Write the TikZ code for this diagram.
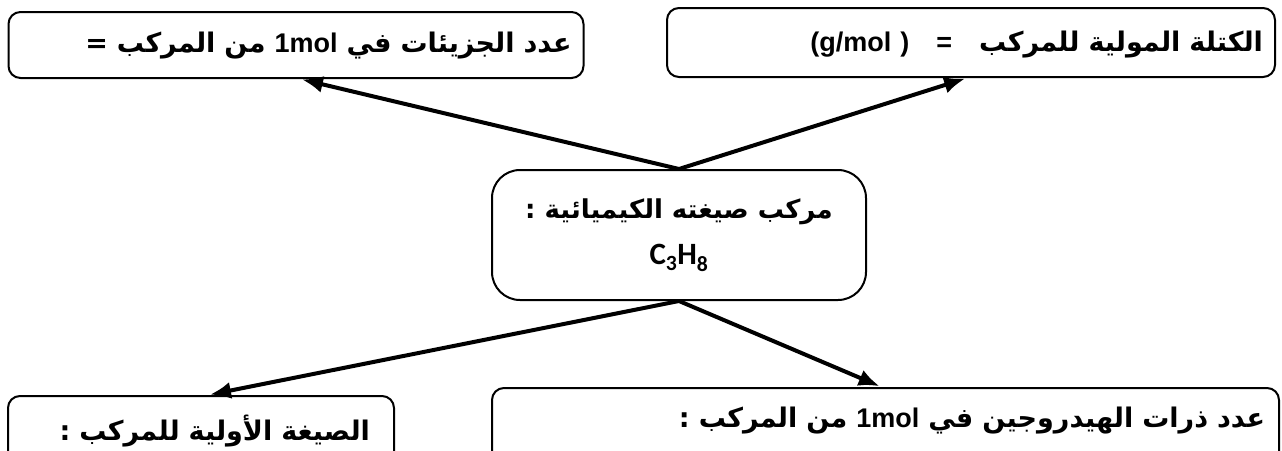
\documentclass[tikz,border=0pt]{standalone}
\usepackage{fontspec}
\setmainfont{Liberation Sans}
\newfontfamily\arfont[Script=Arabic]{DejaVu Sans}
\newfontfamily\calfont{Carlito}
\TeXXeTstate=1
\usetikzlibrary{arrows.meta}

\tikzset{
  boite/.style={draw, line width=2pt, rounded corners=12pt, anchor=north,
    inner xsep=12pt, inner ysep=0pt, align=right,
    font=\fontsize{27}{32}\selectfont\bfseries},
  fleche/.style={line width=4pt, -{Latex[length=21pt,width=17pt]}, shorten >=2pt}
}

\begin{document}
\begin{tikzpicture}[x=1pt,y=-1pt]
\useasboundingbox (0,0) rectangle (1282,450);
\clip (0,0) rectangle (1282,450);
% boites du haut
\node[boite, minimum width=575pt, text width=551pt, text height=40pt, text depth=26pt] (nbmol) at (296,11)
  {\beginR{\arfont عدد الجزيئات في} \beginL 1mol\endL{} {\arfont من المركب =}\endR};
\node[boite, minimum width=608pt, text width=584pt, text height=43pt, text depth=26pt] (masse) at (971,7)
  {(g/mol )\quad=\quad{\arfont\beginR الكتلة المولية للمركب\endR}};
% boite centrale
\node[boite, anchor=center, rounded corners=28pt, minimum width=374pt, minimum height=130pt, align=center] (compose) at (679,235)
  {{\arfont\fontsize{26}{32}\selectfont\beginR مركب صيغته الكيميائية :\endR}\\[14pt] {\calfont\fontsize{31}{32}\selectfont C\textsubscript{3}H\textsubscript{8}}};
% boites du bas
\node[boite, minimum width=386pt, text width=338pt, text height=44pt, text depth=60pt] (empirique) at (201,395)
  {{\arfont\beginR الصيغة الأولية للمركب :\endR}};
\node[boite, minimum width=787pt, text width=759pt, text height=39pt, text depth=60pt] (hydro) at (885.5,387)
  {\beginR{\arfont عدد ذرات الهيدروجين في} \beginL 1mol\endL{} {\arfont من المركب :}\endR};
% fleches
\draw[fleche] (compose.north) -- ([xshift=4pt]nbmol.south);
\draw[fleche] (compose.north) -- ([xshift=-4pt]masse.south);
\draw[fleche] (compose.south) -- ([xshift=7pt]empirique.north);
\draw[fleche] (compose.south) -- ([xshift=-4pt]hydro.north);
\end{tikzpicture}
\end{document}
